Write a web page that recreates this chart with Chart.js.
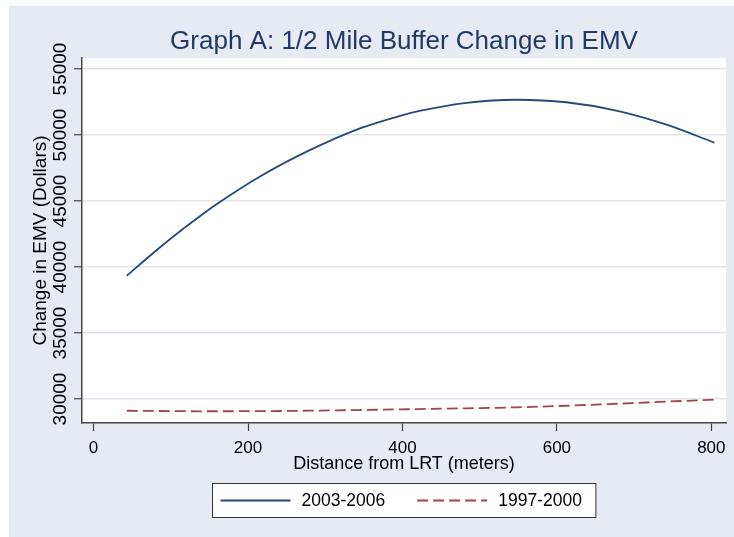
<!DOCTYPE html>
<html>
<head>
<meta charset="utf-8">
<style>
  html, body { margin: 0; padding: 0; background: #ffffff; }
  canvas { display: block; }
</style>
<script src="https://cdn.jsdelivr.net/npm/chart.js@4/dist/chart.umd.min.js"></script>
</head>
<body>
<canvas id="c" width="734" height="537"></canvas>
<script>
// ---- data ----
const distances = [43, 75, 107, 135, 163, 215, 280, 345, 397, 422, 483, 548, 612, 677, 742, 804];
const emv2003_2006 = [39340, 40950, 42480, 43730, 44900, 46840, 48850, 50500, 51450, 51820, 52440, 52670, 52480, 51850, 50780, 49420];
const emv1997_2000 = [29110, 29095, 29080, 29070, 29072, 29080, 29115, 29165, 29215, 29240, 29295, 29370, 29490, 29640, 29800, 29950];
const seriesLabels = ['2003-2006', '1997-2000'];
const xTickValues = [0, 200, 400, 600, 800];
const yTickValues = [30000, 35000, 40000, 45000, 50000, 55000];
const chartTitle = 'Graph A: 1/2 Mile Buffer Change in EMV';
const xTitle = 'Distance from LRT (meters)';
const yTitle = 'Change in EMV (Dollars)';

const FONT = "'Liberation Sans', Arial, Helvetica, sans-serif";
const BG = '#e6eaf3';
const GRID = '#dfe5ef';
const AXIS = '#444444';
const BLUE = '#24497a';
const RED = '#a0434a';

const backgroundPlugin = {
  id: 'stataBackground',
  beforeDraw(chart) {
    const ctx = chart.ctx;
    const ca = chart.chartArea;
    ctx.save();
    ctx.fillStyle = '#ffffff';
    ctx.fillRect(0, 0, chart.width, chart.height);
    ctx.fillStyle = BG;
    ctx.fillRect(9, 6, chart.width - 9, chart.height - 6);
    ctx.fillStyle = '#ffffff';
    ctx.fillRect(ca.left, ca.top, ca.right - ca.left, ca.bottom - ca.top);
    ctx.restore();
  }
};

const legendPlugin = {
  id: 'stataLegend',
  afterDraw(chart) {
    const ctx = chart.ctx;
    const ca = chart.chartArea;
    const xs = chart.scales.x;
    const ds = chart.data.datasets;
    ctx.save();
    ctx.font = '17.5px ' + FONT;
    const w0 = ctx.measureText(ds[0].label).width;
    const w1 = ctx.measureText(ds[1].label).width;
    const padL = 8, lineW = 70, gap = 11, mid = 32, padR = 14;
    const boxW = padL + lineW + gap + w0 + mid + lineW + gap + w1 + padR;
    const cx = (ca.left + ca.right) / 2;
    const bx = Math.round(cx - boxW / 2) + 0.5;
    const by = Math.round(xs.bottom + 8) + 0.5;
    const bh = 34;
    ctx.fillStyle = '#ffffff';
    ctx.fillRect(bx, by, boxW, bh);
    ctx.strokeStyle = '#333333';
    ctx.lineWidth = 1;
    ctx.strokeRect(bx, by, boxW, bh);
    const cy = by + bh / 2;
    let x = bx + padL;
    [0, 1].forEach((i) => {
      const d = ds[i];
      ctx.beginPath();
      ctx.setLineDash(d.borderDash || []);
      ctx.strokeStyle = d.borderColor;
      ctx.lineWidth = d.borderWidth;
      ctx.moveTo(x, cy);
      ctx.lineTo(x + lineW, cy);
      ctx.stroke();
      ctx.setLineDash([]);
      x += lineW + gap;
      ctx.fillStyle = '#000000';
      ctx.textAlign = 'left';
      ctx.textBaseline = 'middle';
      ctx.fillText(d.label, x, cy + 1);
      x += (i === 0 ? w0 : w1) + mid;
    });
    ctx.restore();
  }
};

const toPoints = (ys) => distances.map((d, i) => ({ x: d, y: ys[i] }));

new Chart(document.getElementById('c'), {
  type: 'line',
  data: {
    datasets: [
      {
        label: seriesLabels[0],
        data: toPoints(emv2003_2006),
        borderColor: BLUE,
        borderWidth: 1.8,
        pointRadius: 0,
        fill: false,
        cubicInterpolationMode: 'monotone'
      },
      {
        label: seriesLabels[1],
        data: toPoints(emv1997_2000),
        borderColor: RED,
        borderWidth: 1.8,
        borderDash: [11, 5],
        pointRadius: 0,
        fill: false,
        cubicInterpolationMode: 'monotone'
      }
    ]
  },
  options: {
    responsive: false,
    devicePixelRatio: 1,
    animation: false,
    layout: { padding: { top: 0, left: 0, right: 8, bottom: 62 } },
    plugins: {
      legend: { display: false },
      tooltip: { enabled: false },
      title: {
        display: true,
        text: chartTitle,
        fullSize: false,
        color: '#1f3a66',
        font: { family: FONT, size: 26, weight: 'normal', lineHeight: 1.2 },
        padding: { top: 26, bottom: 0.8 }
      }
    },
    scales: {
      x: {
        type: 'linear',
        min: -15,
        max: 819,
        afterBuildTicks(scale) { scale.ticks = xTickValues.map(v => ({ value: v })); },
        afterFit(scale) { scale.height = 52; },
        grid: { display: true, drawOnChartArea: false, drawTicks: true, tickLength: 8, tickColor: AXIS, tickWidth: 1.2 },
        border: { display: true, color: AXIS, width: 1.5 },
        ticks: { color: '#000000', font: { family: FONT, size: 17 }, padding: 7, maxRotation: 0, minRotation: 0 },
        title: { display: true, text: xTitle, color: '#000000', font: { family: FONT, size: 18, lineHeight: 1.2 }, padding: { top: 0, bottom: 0 } }
      },
      y: {
        type: 'linear',
        min: 28182,
        max: 55833,
        afterBuildTicks(scale) { scale.ticks = yTickValues.map(v => ({ value: v })); },
        afterFit(scale) { scale.width = 82; },
        grid: { display: true, color: GRID, lineWidth: 1.5, drawTicks: true, tickLength: 8, tickColor: AXIS, tickWidth: 1.2 },
        border: { display: true, color: AXIS, width: 1.5 },
        ticks: {
          color: '#000000',
          font: { family: FONT, size: 19 },
          minRotation: 90,
          maxRotation: 90,
          crossAlign: 'center',
          padding: -13,
          callback: (v) => String(v)
        },
        title: { display: true, text: yTitle, color: '#000000', font: { family: FONT, size: 19, lineHeight: 1.2 }, padding: { top: 29, bottom: 0 } }
      }
    }
  },
  plugins: [backgroundPlugin, legendPlugin]
});
</script>
</body>
</html>
